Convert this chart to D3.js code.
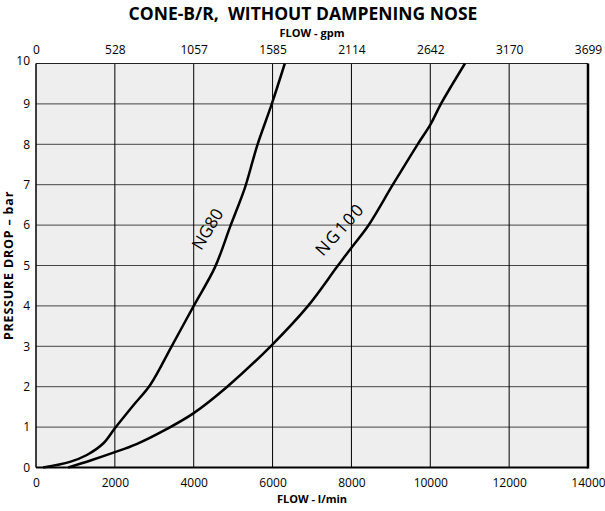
<!DOCTYPE html>
<html>
<head>
<meta charset="utf-8">
<script src="https://cdn.jsdelivr.net/npm/d3@7"></script>
<style>
  body { margin: 0; background: #fff; }
  svg { font-family: "Open Sans", "Noto Sans", sans-serif; }
</style>
</head>
<body>
<div id="chart"></div>
<script>
// flow in l/min, pressure drop in bar
const flowTicks = [0, 2000, 4000, 6000, 8000, 10000, 12000, 14000];
const gpmLabels = ['0', '528', '1057', '1585', '2114', '2642', '3170', '3699'];
const pressureTicks = [0, 1, 2, 3, 4, 5, 6, 7, 8, 9, 10];

const ng80 = [
  [180, 0], [860, 0.14], [1290, 0.31], [1710, 0.6], [2000, 0.97], [2470, 1.54],
  [2900, 2.05], [3440, 3.0], [4000, 4.0], [4540, 4.96], [4920, 5.95],
  [5300, 6.93], [5500, 7.6], [5620, 8.0], [5980, 9.0], [6310, 10]
];
const ng100 = [
  [820, 0], [1400, 0.18], [2000, 0.38], [2550, 0.58], [3310, 0.95], [3990, 1.34],
  [4850, 2.0], [5950, 3.0], [6900, 4.0], [7630, 4.96], [8000, 5.44], [8430, 5.99],
  [9050, 7.0], [9680, 8.0], [10010, 8.5], [10270, 9.0], [10880, 10]
];

const width = 605, height = 511;
const margin = { top: 63.5, right: 17, bottom: 43.5, left: 36 };

const svg = d3.select('#chart').append('svg')
  .attr('width', width)
  .attr('height', height);

const x = d3.scaleLinear().domain([0, 14000]).range([margin.left, width - margin.right]);
const y = d3.scaleLinear().domain([0, 10]).range([height - margin.bottom, margin.top]);

// plot background
svg.append('rect')
  .attr('x', x(0)).attr('y', y(10))
  .attr('width', x(14000) - x(0)).attr('height', y(0) - y(10))
  .attr('fill', '#eeeeee');

// grid
svg.append('g').selectAll('line')
  .data(pressureTicks.slice(1, -1))
  .enter().append('line')
  .attr('x1', x(0)).attr('x2', x(14000))
  .attr('y1', d => y(d)).attr('y2', d => y(d))
  .attr('stroke', '#444').attr('stroke-width', 1);

svg.append('g').selectAll('line')
  .data(flowTicks.slice(1, -1))
  .enter().append('line')
  .attr('x1', d => x(d)).attr('x2', d => x(d))
  .attr('y1', y(0)).attr('y2', y(10))
  .attr('stroke', '#000').attr('stroke-width', 1);

// border
svg.append('line').attr('x1', x(0)).attr('x2', x(14000)).attr('y1', y(10)).attr('y2', y(10))
  .attr('stroke', '#222').attr('stroke-width', 1);
svg.append('line').attr('x1', x(0)).attr('x2', x(0)).attr('y1', y(0)).attr('y2', y(10))
  .attr('stroke', '#000').attr('stroke-width', 1.5);
svg.append('line').attr('x1', x(14000)).attr('x2', x(14000)).attr('y1', y(0) + 1).attr('y2', y(10))
  .attr('stroke', '#000').attr('stroke-width', 2.5);
svg.append('line').attr('x1', x(0)).attr('x2', x(14000)).attr('y1', y(0)).attr('y2', y(0))
  .attr('stroke', '#000').attr('stroke-width', 2);

// bottom axis
const bottomAxis = svg.append('g')
  .attr('transform', `translate(0,${y(0)})`)
  .call(d3.axisBottom(x).tickValues(flowTicks).tickSize(0).tickPadding(11).tickFormat(d3.format('d')));
bottomAxis.select('.domain').remove();
bottomAxis.selectAll('text').attr('font-size', 12).attr('fill', '#000')
  .style('font-family', '"Open Sans", sans-serif');

// top axis (gpm)
const topAxis = svg.append('g')
  .attr('transform', `translate(0,${y(10)})`)
  .call(d3.axisTop(x).tickValues(flowTicks).tickSize(0).tickPadding(10)
    .tickFormat((d, i) => gpmLabels[i]));
topAxis.select('.domain').remove();
topAxis.selectAll('text').attr('font-size', 12).attr('fill', '#000')
  .style('font-family', '"Open Sans", sans-serif');

// left axis
const leftAxis = svg.append('g')
  .attr('transform', `translate(${x(0)},0)`)
  .call(d3.axisLeft(y).tickValues(pressureTicks).tickSize(0).tickPadding(6).tickFormat(d3.format('d')));
leftAxis.select('.domain').remove();
leftAxis.selectAll('text').attr('font-size', 12).attr('fill', '#000')
  .style('font-family', '"Open Sans", sans-serif');
leftAxis.selectAll('.tick').filter(d => d === 10).select('text').attr('dy', '0.1em');

// curves
const line = d3.line()
  .x(d => x(d[0]))
  .y(d => y(d[1]))
  .curve(d3.curveCatmullRom.alpha(0.5));

[ng80, ng100].forEach(data => {
  svg.append('path')
    .datum(data)
    .attr('d', line)
    .attr('fill', 'none')
    .attr('stroke', '#000')
    .attr('stroke-width', 2.5);
});

// curve labels
svg.append('text')
  .attr('transform', `translate(${x(4350)},${y(5.9)}) rotate(-59)`)
  .attr('text-anchor', 'middle')
  .attr('dy', '0.35em')
  .attr('font-size', 17)
  .text('NG80');
svg.append('text')
  .attr('transform', `translate(${x(7710)},${y(5.9)}) rotate(-48)`)
  .attr('text-anchor', 'middle')
  .attr('dy', '0.35em')
  .attr('font-size', 17)
  .attr('letter-spacing', 2)
  .text('NG100');

// titles
svg.append('text')
  .attr('x', 303).attr('y', 19.5)
  .attr('text-anchor', 'middle')
  .attr('font-size', 17.5).attr('font-weight', 'bold')
  .attr('xml:space', 'preserve')
  .style('white-space', 'pre')
  .text('CONE-B/R,  WITHOUT DAMPENING NOSE');
svg.append('text')
  .attr('x', 312).attr('y', 36.5)
  .attr('text-anchor', 'middle')
  .attr('font-size', 11).attr('font-weight', 'bold')
  .text('FLOW - gpm');
svg.append('text')
  .attr('x', 312).attr('y', 503)
  .attr('text-anchor', 'middle')
  .attr('font-size', 11).attr('font-weight', 'bold')
  .text('FLOW - l/min');
svg.append('text')
  .attr('transform', `translate(13,${(y(0) + y(10)) / 2}) rotate(-90)`)
  .attr('text-anchor', 'middle')
  .attr('font-size', 12.5).attr('font-weight', 'bold')
  .attr('letter-spacing', 0.8)
  .text('PRESSURE DROP – bar');
</script>
</body>
</html>
